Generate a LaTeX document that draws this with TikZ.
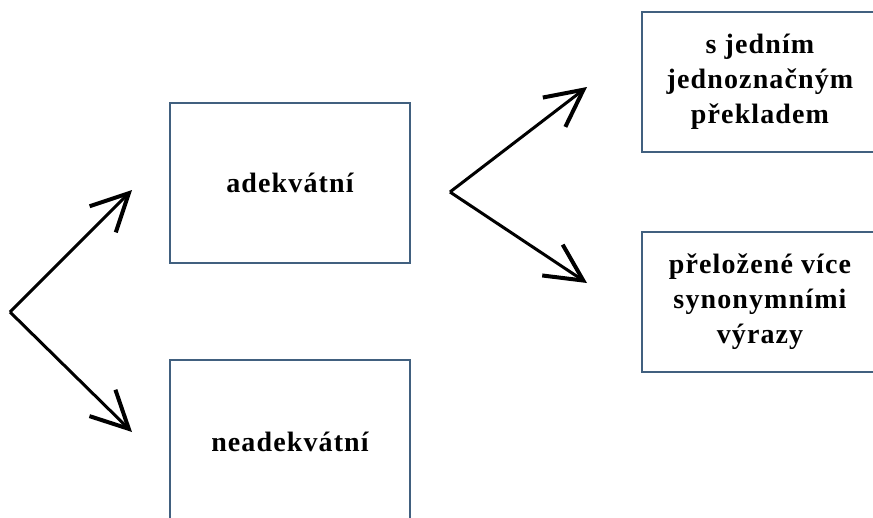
\documentclass[tikz,border=0pt]{standalone}
\usepackage{fontspec}
\newfontfamily\labelfont{Liberation Serif}[LetterSpace=4]
\usetikzlibrary{arrows.meta}
\definecolor{boxline}{HTML}{41607F}
\begin{document}
\begin{tikzpicture}[x=1pt,y=-1pt,
  cat/.style={draw=boxline, line width=2pt, fill=white, inner sep=0pt,
    align=center, font=\labelfont\bfseries\fontsize{28}{35}\selectfont},
  branch/.style={line width=3pt, line cap=butt,
    -{Straight Barb[length=37pt,width=37pt,line width=4pt]}}]
\useasboundingbox (0,0) rectangle (873,517);
\clip (0,0) rectangle (873,517);

% category boxes
\node[cat, minimum width=240pt, minimum height=160pt] (ade) at (290,183) {adekvátní};
\node[cat, minimum width=240pt, minimum height=164pt] (nead) at (290,442) {neadekvátní};
\node[cat, minimum width=236pt, minimum height=140pt] (jedn) at (760,82)
  {s jedním\\jednoznačným\\překladem};
\node[cat, minimum width=236pt, minimum height=140pt] (syn) at (760,302)
  {přeložené více\\synonymními\\výrazy};

% branching points and arrow tips
\coordinate (root) at (10,312);
\coordinate (toAde) at (132,190);
\coordinate (toNead) at (132,432);
\coordinate (fork) at (450,192);
\coordinate (toJedn) at (587,87);
\coordinate (toSyn) at (587,283);

\draw[branch] (root) -- (toAde);
\draw[branch] (root) -- (toNead);
\draw[branch] (fork) -- (toJedn);
\draw[branch] (fork) -- (toSyn);
\end{tikzpicture}
\end{document}
